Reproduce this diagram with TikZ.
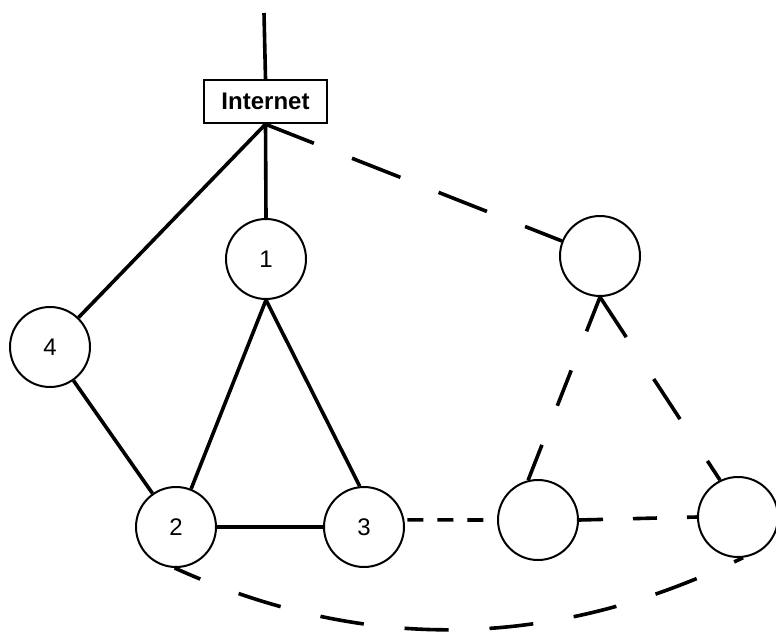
\documentclass[tikz,border=0pt]{standalone}
\usepackage{fontspec}
\setmainfont{Liberation Sans}
\begin{document}
\begin{tikzpicture}[x=1pt,y=-1pt,
  nd/.style={circle,draw,line width=2pt,minimum size=80pt,inner sep=0pt,font=\fontsize{24}{24}\selectfont},
  netbox/.style={draw,line width=2.4pt,minimum width=123pt,minimum height=43pt,inner sep=0pt,font=\bfseries\fontsize{24}{24}\selectfont},
  link/.style={line width=3.6pt},
  dlink/.style={line width=3.6pt}]
\useasboundingbox (0,0) rectangle (776,632);
\node[netbox] (inet) at (265.5,101.5) {Internet};
\coordinate (top) at (264,13);
\node[nd] (n1) at (266,259) {1};
\node[nd] (n4) at (50,347) {4};
\node[nd] (n2) at (176,527) {2};
\node[nd] (n3) at (364,527) {3};
\node[nd] (tr) at (600,256) {};
\node[nd] (m) at (538,520) {};
\node[nd] (r) at (738,517) {};
% solid links
\draw[link] (top) -- (inet.north);
\draw[link] (inet.south) -- (n1.north);
\draw[link] (inet.south) -- (n4);
\draw[link] (n4) -- (n2);
\draw[link] (n1.south) -- (n2);
\draw[link] (n1.south) -- (n3.96);
\draw[link] (n2) -- (n3);
% dashed links
\draw[dlink,dash pattern=on 52pt off 41pt] (inet.south) -- (tr);
\draw[dlink,dash pattern=on 16pt off 14pt] ([xshift=3pt]n3.10) -- (m.west);
\draw[dlink,dash pattern=on 24pt off 30pt] (m.east) -- (r.west);
\draw[dlink,dash pattern=on 38pt off 42pt] (m.104) -- (tr.south);
\draw[dlink,dash pattern=on 48pt off 50pt] (tr.south) -- (r.116);
\draw[dlink,dash pattern=on 44pt off 41pt,dash phase=16pt] (n2.-92) .. controls (365,654) and (554,650) .. (r.-83);
\end{tikzpicture}
\end{document}
